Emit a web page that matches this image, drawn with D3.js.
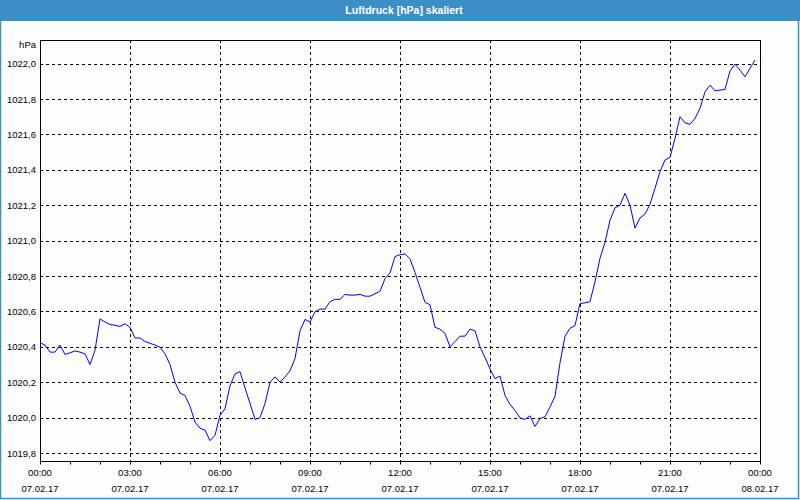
<!DOCTYPE html>
<html>
<head>
<meta charset="utf-8">
<script src="https://cdn.jsdelivr.net/npm/d3@7"></script>
<style>
  html, body { margin: 0; padding: 0; background: #ffffff; }
  svg { display: block; }
</style>
</head>
<body>
<svg id="chart" width="800" height="500"></svg>
<script>
// ---- data ----
const title = "Luftdruck [hPa] skaliert";
const unitLabel = "hPa";
const startTime = "2017-02-07T00:00:00";
const endTime = "2017-02-08T00:00:00";
const intervalMinutes = 10;
// Luftdruck values (hPa), one every 10 minutes starting 07.02.17 00:00
const pressure = [
  1020.423, 1020.41, 1020.37, 1020.37, 1020.41, 1020.357, 1020.366, 1020.377, 1020.37, 1020.36,
  1020.30, 1020.38, 1020.558, 1020.54, 1020.526, 1020.522, 1020.515, 1020.53, 1020.51, 1020.45,
  1020.45, 1020.43, 1020.42, 1020.41, 1020.398, 1020.36, 1020.30, 1020.20, 1020.138, 1020.125,
  1020.064, 1019.975, 1019.94, 1019.93, 1019.87, 1019.90, 1020.013, 1020.05, 1020.18, 1020.247,
  1020.26, 1020.168, 1020.08, 1019.99, 1020.00, 1020.08, 1020.20, 1020.23, 1020.20,
  1020.23, 1020.264, 1020.334, 1020.49, 1020.555, 1020.54, 1020.598, 1020.613, 1020.613, 1020.655,
  1020.668, 1020.668, 1020.696, 1020.692, 1020.692, 1020.696, 1020.686, 1020.686, 1020.70, 1020.714,
  1020.785, 1020.817, 1020.91, 1020.92, 1020.925, 1020.897, 1020.82, 1020.736, 1020.651, 1020.638,
  1020.51, 1020.50, 1020.476, 1020.40, 1020.43, 1020.46, 1020.46, 1020.50, 1020.49, 1020.40,
  1020.34, 1020.275, 1020.22, 1020.235, 1020.125, 1020.075, 1020.04,
  1019.998, 1019.99, 1020.01, 1019.95, 1019.995, 1020.005, 1020.06, 1020.12, 1020.31, 1020.46,
  1020.505, 1020.52, 1020.645, 1020.648, 1020.655, 1020.768, 1020.90, 1020.99, 1021.115, 1021.185,
  1021.20, 1021.267, 1021.20, 1021.07, 1021.128, 1021.15, 1021.205, 1021.295, 1021.39, 1021.455,
  1021.47, 1021.577, 1021.70, 1021.665, 1021.657, 1021.69, 1021.747, 1021.84, 1021.878, 1021.846,
  1021.85, 1021.854, 1021.958, 1021.997, 1021.963, 1021.925, 1021.973, 1022.02
];
const yTicks = [1019.8, 1020.0, 1020.2, 1020.4, 1020.6, 1020.8, 1021.0, 1021.2, 1021.4, 1021.6, 1021.8, 1022.0];
const yDomain = [1019.755, 1022.133];

// ---- layout ----
const W = 800, H = 500;
const plot = { left: 40, right: 760, top: 40, bottom: 461 };
const font = "'Liberation Sans', Arial, sans-serif";

const svg = d3.select("#chart");
const parse = d3.timeParse("%Y-%m-%dT%H:%M:%S");
const t0 = parse(startTime), t1 = parse(endTime);

const x = d3.scaleTime().domain([t0, t1]).range([plot.left, plot.right]);
const y = d3.scaleLinear().domain(yDomain).range([plot.bottom, plot.top]);

const data = pressure.map((v, i) => ({ t: d3.timeMinute.offset(t0, i * intervalMinutes), v }));

// background
svg.append("rect").attr("x", 0).attr("y", 0).attr("width", W).attr("height", H).attr("fill", "#fcfdfc");

// title bar
svg.append("rect").attr("x", 0).attr("y", 0).attr("width", W).attr("height", 21).attr("fill", "#3b8fc6");
svg.append("text").attr("x", 404).attr("y", 13.5).attr("text-anchor", "middle")
  .attr("font-family", font).attr("font-size", "10.5px").attr("font-weight", "bold")
  .attr("fill", "#ffffff").text(title);

// window border
svg.append("rect").attr("x", 0.5).attr("y", 0.5).attr("width", W - 2).attr("height", H - 2)
  .attr("fill", "none").attr("stroke", "#3b8fc6").attr("stroke-width", 1.5);

// horizontal gridlines
const gridG = svg.append("g").attr("stroke", "#000").attr("stroke-dasharray", "3,3").attr("stroke-width", 1);
yTicks.forEach(v => {
  const yy = Math.round(y(v)) + 0.5;
  gridG.append("line").attr("x1", plot.left).attr("x2", plot.right).attr("y1", yy).attr("y2", yy);
});
// vertical gridlines every 3 hours (inner)
const majorTicks = d3.timeHour.every(3).range(t0, d3.timeMinute.offset(t1, 1));
majorTicks.forEach(t => {
  if (+t === +t0 || +t === +t1) return;
  const xx = Math.round(x(t)) + 0.5;
  gridG.append("line").attr("x1", xx).attr("x2", xx).attr("y1", plot.top).attr("y2", plot.bottom);
});

// line
const line = d3.line().x(d => x(d.t)).y(d => y(d.v));
svg.append("path").datum(data).attr("d", line)
  .attr("fill", "none").attr("stroke", "#0000ff").attr("stroke-width", 1);

// frame
svg.append("rect").attr("x", plot.left + 0.5).attr("y", plot.top + 0.5)
  .attr("width", plot.right - plot.left).attr("height", plot.bottom - plot.top)
  .attr("fill", "none").attr("stroke", "#000").attr("stroke-width", 1);

// y axis labels
const fmt = v => d3.format(".1f")(v).replace(".", ",");
const yAxis = d3.axisLeft(y).tickValues(yTicks).tickSize(0).tickPadding(4).tickFormat(fmt);
const yg = svg.append("g").attr("transform", `translate(${plot.left},0)`).call(yAxis);
yg.select(".domain").remove();
yg.selectAll("text").attr("font-family", font).attr("font-size", "9.5px").attr("fill", "#000");

svg.append("text").attr("x", 36).attr("y", 48).attr("text-anchor", "end")
  .attr("font-family", font).attr("font-size", "9.5px").attr("fill", "#000").text(unitLabel);

// x axis: hourly ticks, labels every 3 hours
const xg = svg.append("g").attr("transform", `translate(0,${plot.bottom + 0.5})`);
const hourTicks = d3.timeHour.every(1).range(t0, d3.timeMinute.offset(t1, 1));
const xAxis = d3.axisBottom(x).tickValues(hourTicks).tickSize(3).tickSizeOuter(0).tickFormat("");
xg.call(xAxis);
xg.select(".domain").remove();
xg.selectAll(".tick line").attr("stroke", "#000");

const lab = svg.append("g").attr("font-family", font).attr("font-size", "9.5px").attr("fill", "#000")
  .attr("text-anchor", "middle");
majorTicks.forEach(t => {
  const xx = x(t);
  lab.append("text").attr("x", xx).attr("y", 476).text(d3.timeFormat("%H:%M")(t));
  lab.append("text").attr("x", xx).attr("y", 492).text(d3.timeFormat("%d.%m.%y")(t));
});
</script>
</body>
</html>
